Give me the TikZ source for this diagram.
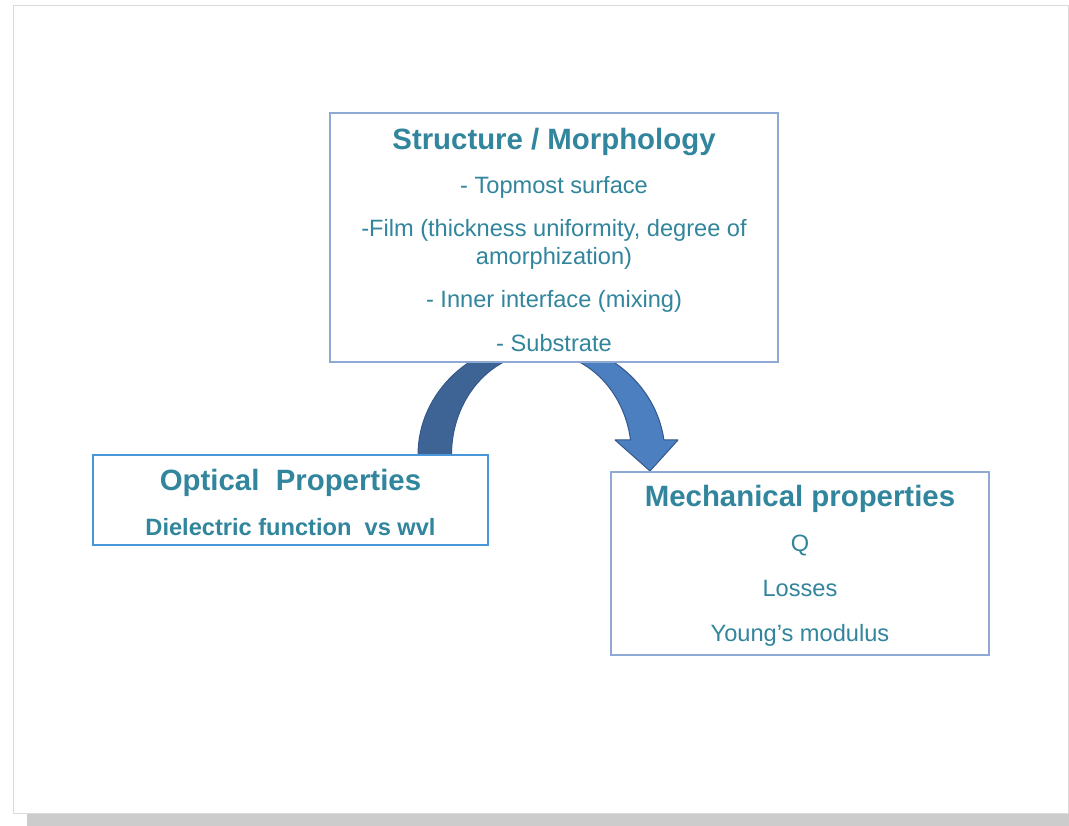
\documentclass[tikz,border=0pt]{standalone}
\usepackage{fontspec}
\setmainfont{Liberation Sans}
\definecolor{tealtext}{HTML}{31859C}
\definecolor{boxline}{HTML}{8EAAD4}
\definecolor{optline}{HTML}{4A96DA}
\definecolor{arrowdark}{HTML}{3E6496}
\definecolor{arrowlight}{HTML}{4B7FBF}
\definecolor{arrowline}{HTML}{34578A}
\definecolor{slideline}{HTML}{DADADA}
\definecolor{shadowgrey}{HTML}{CCCCCC}

\newcommand{\titlefont}{\fontsize{20.9}{24}\selectfont\bfseries\rule{0pt}{18.5pt}}

\begin{document}
\begin{tikzpicture}[
    box/.style={draw=boxline, line width=.8pt, fill=white, text=tealtext, align=center,
        font=\fontsize{16.8}{19.9}\selectfont},
    arrowpart/.style={draw=arrowline, line width=.7pt, line join=round}]

\useasboundingbox (0,0) rectangle (26.725,20.65);

% slide and its shadow
\fill[shadowgrey] (.675,0) rectangle (26.725,.33);
\draw[slideline, fill=white, line width=.6pt] (.325,.325) rectangle (26.7,20.525);

% curved arrow (two elliptic bands), drawn before the boxes so they hide its ends
\filldraw[arrowpart, fill=arrowdark] (10.45,9.275)
    arc[start angle=180, end angle=90, x radius=3.0875, y radius=2.8625]
    -- (13.5375,11.835)
    arc[start angle=90, end angle=180, x radius=2.25, y radius=2.56] -- cycle;
\filldraw[arrowpart, fill=arrowlight] (13.5375,12.1375)
    arc[start angle=90, end angle=7.53, x radius=3.0875, y radius=2.8625]
    -- (16.95,9.65) -- (16.25,8.875) -- (15.375,9.65) -- (15.763,9.65)
    arc[start angle=8.42, end angle=90, x radius=2.25, y radius=2.56] -- cycle;

\node[box, minimum width=11.2cm, minimum height=6.225cm] (morph) at (13.85,14.7125)
    {{\titlefont Structure / Morphology}\\[11pt]
     - Topmost surface\\[10.9pt]
     -Film (thickness uniformity, degree of\\
     amorphization)\\[10.9pt]
     - Inner interface (mixing)\\[10.9pt]
     - Substrate};

\node[box, draw=optline, minimum width=9.875cm, minimum height=2.25cm] (optical) at (7.2625,8.15)
    {{\titlefont Optical~~Properties}\\[12.1pt]
     \bfseries Dielectric function~~vs wvl};

\node[box, minimum width=9.45cm, minimum height=4.575cm] (mech) at (20,6.5625)
    {{\titlefont Mechanical properties}\\[12.1pt]
     Q\\[12.1pt]
     Losses\\[12.1pt]
     Young's modulus};
\end{tikzpicture}
\end{document}
